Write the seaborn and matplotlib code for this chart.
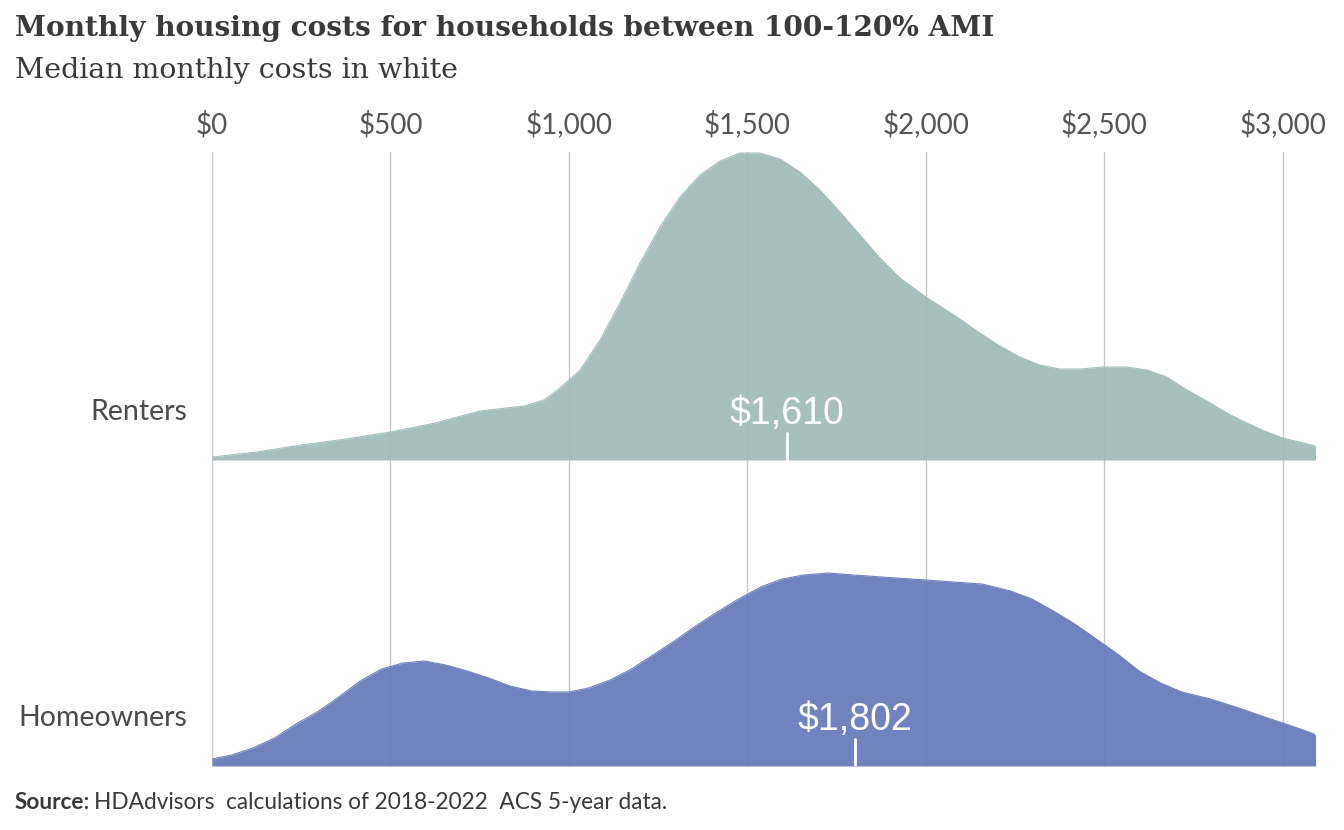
import numpy as np
import pandas as pd
import matplotlib
matplotlib.use("Agg")
import matplotlib.pyplot as plt
import seaborn as sns

# ================= DATA =================
# cost values ($) and relative density heights
renter_cost = [0, 125, 250, 375, 500, 625, 750, 875, 930, 975, 1031, 1087,
               1143, 1199, 1255, 1311, 1367, 1423, 1479, 1535, 1591, 1647,
               1703, 1759, 1815, 1871, 1927, 2000, 2039, 2095, 2151, 2207,
               2263, 2319, 2375, 2431, 2500, 2563, 2619, 2675, 2731, 2787,
               2843, 2899, 2955, 3000, 3092]
renter_dens = [3, 8, 15, 21, 28, 37, 49, 54, 60, 72, 90, 120,
               157, 197, 233, 263, 285, 299, 307, 307, 301, 288,
               270, 248, 225, 202, 182, 163, 154, 141, 127, 114,
               103, 95, 91, 91, 93, 93, 90, 83, 70, 59,
               47, 37, 28, 22, 14]

owner_cost = [0, 55, 115, 175, 235, 295, 355, 415, 475, 535, 595, 655, 715,
              775, 835, 895, 955, 1000, 1055, 1115, 1175, 1235, 1295, 1355,
              1415, 1475, 1537, 1597, 1657, 1727, 1797, 1877, 2000, 2077,
              2157, 2237, 2297, 2357, 2417, 2477, 2537, 2597, 2657, 2717,
              2797, 2877, 2957, 3000, 3057, 3094]
owner_dens = [7, 11, 18, 28, 42, 54, 69, 85, 97, 103, 105, 101, 95,
              88, 80, 75, 74, 74, 78, 86, 97, 111, 125, 140,
              154, 167, 179, 187, 191, 193, 191, 189, 186, 184,
              182, 175, 167, 155, 142, 127, 112, 95, 83, 74,
              67, 58, 48, 43, 36, 31]

groups = ["Renters", "Homeowners"]
medians = [1610, 1802]
tick_vals = [0, 500, 1000, 1500, 2000, 2500, 3000]
tick_labels = ["$0", "$500", "$1,000", "$1,500", "$2,000", "$2,500", "$3,000"]
# =========================================

sns.set_style("white")
plt.rcParams['font.family'] = ['Lato', 'DejaVu Sans']

fig = plt.figure(figsize=(13.44, 8.30), dpi=100)
ax = fig.add_axes([212 / 1344, 64 / 830, 1103 / 1344, 614 / 830])

baselines = {"Renters": 306, "Homeowners": 0}
colors = {"Renters": "#9ebab6", "Homeowners": "#6276b7"}
series = {"Renters": (renter_cost, renter_dens),
          "Homeowners": (owner_cost, owner_dens)}

# grid lines behind the ridges
for v in tick_vals:
    ax.axvline(v, color="#c8c8c8", lw=1, zorder=0)

for g, med in zip(groups, medians):
    x, y = series[g]
    df = pd.DataFrame({"cost": x, "dens": np.array(y) + baselines[g]})
    ax.fill_between(df["cost"], baselines[g], df["dens"],
                    color=colors[g], alpha=0.9, lw=0, zorder=2)
    sns.lineplot(data=df, x="cost", y="dens", ax=ax, color=colors[g],
                 alpha=0.9, lw=0.8, zorder=2)
    # median marker
    ax.plot([med, med], [baselines[g], baselines[g] + 27], color="white",
            lw=2, zorder=3)
    ax.text(med, baselines[g] + 36, f"${med:,}", color="white",
            fontsize=27, ha="center", va="baseline", family=["Liberation Sans"],
            zorder=3)
    ax.text(-68, baselines[g] + 48, g, fontsize=20.5, color="#4a4a4a",
            ha="right", va="center", transform=ax.transData)

ax.set_xlim(0, 3090)
ax.set_ylim(0, 614)
ax.set_xticks(tick_vals)
ax.set_xticklabels(tick_labels)
ax.xaxis.tick_top()
ax.tick_params(axis="x", length=0, labelsize=20, labelcolor="#555555", pad=10)
ax.set_yticks([])
ax.set_xlabel("")
ax.set_ylabel("")
for s in ax.spines.values():
    s.set_visible(False)

fig.text(15 / 1344, 1 - 28 / 830, "Monthly housing costs for households between 100-120% AMI",
         fontsize=20.2, fontweight="bold", color="#3a3a3a", va="center",
         family=["DejaVu Serif"])
fig.text(15 / 1344, 1 - 70 / 830, "Median monthly costs in white",
         fontsize=20.5, color="#3a3a3a", va="center", family=["DejaVu Serif"])

# source line: bold label then regular text right after it
src = fig.text(15 / 1344, 1 - 802 / 830, "Source:", fontsize=16.3, fontweight="bold",
               color="#3a3a3a", va="center")
fig.canvas.draw()
bb = src.get_window_extent(renderer=fig.canvas.get_renderer())
fig.text((bb.x1 + 4) / 1344, 1 - 802 / 830,
         "HDAdvisors  calculations of 2018-2022  ACS 5-year data.",
         fontsize=16.3, color="#3a3a3a", va="center")

fig.savefig("out.png", dpi=100)
